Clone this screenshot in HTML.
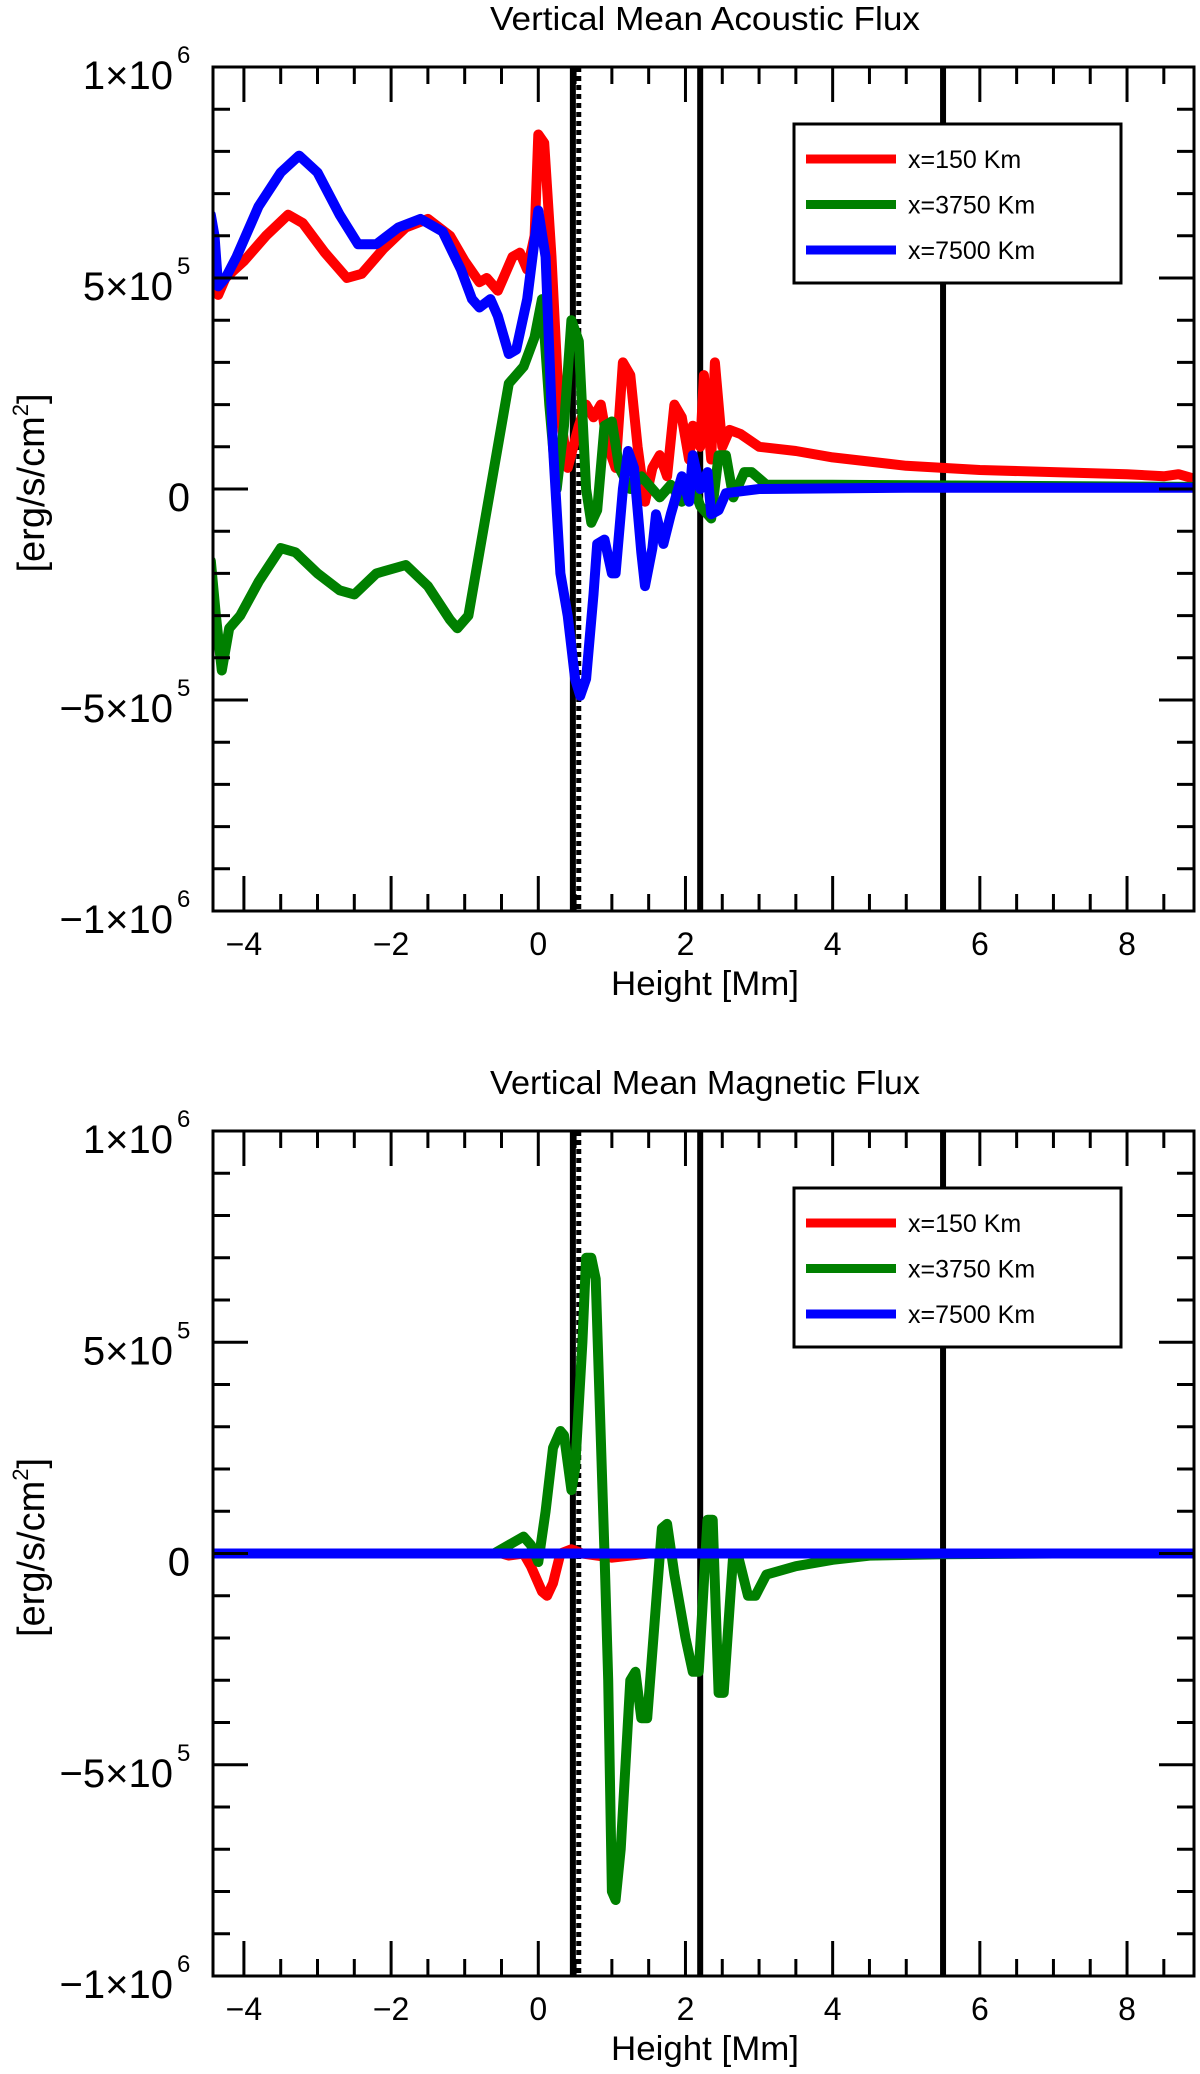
<!DOCTYPE html>
<html><head><meta charset="utf-8"><style>
html,body{margin:0;padding:0;background:#fff;}
svg{display:block;font-family:"Liberation Sans",Arial,sans-serif;}
</style></head><body>
<svg id="chart" width="1200" height="2074" viewBox="0 0 1200 2074" xmlns="http://www.w3.org/2000/svg"></svg>
<script>
// ---- data ----
const xTicks = [-4,-2,0,2,4,6,8];
const yTickLabels = [["1×10","6"],["5×10","5"],["0",""],["−5×10","5"],["−1×10","6"]];
const yTickValues = [1e6,5e5,0,-5e5,-1e6];
const seriesNames = ["x=150 Km","x=3750 Km","x=7500 Km"];
const seriesColors = ["#ff0000","#008000","#0000ff"];
const markerLines = [0.47, 2.2, 5.5];
const dottedLine = 0.55;

const acRedX = [-4.5,-4.4,-4.35,-4.25,-4.0,-3.7,-3.4,-3.2,-2.9,-2.6,-2.4,-2.1,-1.8,-1.5,-1.2,-1.0,-0.8,-0.7,-0.55,-0.45,-0.35,-0.25,-0.15,-0.05,0.0,0.08,0.18,0.28,0.4,0.55,0.65,0.75,0.85,0.95,1.05,1.15,1.25,1.35,1.45,1.55,1.65,1.75,1.85,1.95,2.05,2.1,2.2,2.25,2.35,2.4,2.5,2.6,2.75,3.0,3.5,4.0,5.0,6.0,7.0,8.0,8.5,8.7,8.9];
const acRedY = [0.49,0.5,0.46,0.5,0.54,0.6,0.65,0.63,0.56,0.5,0.51,0.57,0.62,0.64,0.6,0.54,0.49,0.5,0.47,0.51,0.55,0.56,0.52,0.6,0.84,0.82,0.55,0.2,0.05,0.15,0.2,0.17,0.2,0.1,0.05,0.3,0.27,0.1,-0.03,0.05,0.08,0.03,0.2,0.17,0.07,0.15,0.1,0.27,0.07,0.3,0.1,0.14,0.13,0.1,0.09,0.075,0.055,0.045,0.04,0.035,0.03,0.035,0.025];
const acGreenX = [-4.5,-4.45,-4.38,-4.3,-4.2,-4.05,-3.8,-3.5,-3.3,-3.0,-2.7,-2.5,-2.2,-1.8,-1.5,-1.2,-1.1,-0.95,-0.8,-0.6,-0.4,-0.2,-0.05,0.05,0.15,0.25,0.35,0.45,0.55,0.65,0.72,0.8,0.9,1.0,1.1,1.25,1.4,1.55,1.65,1.8,1.95,2.1,2.2,2.35,2.45,2.55,2.65,2.8,2.9,3.1,4.0,8.9];
const acGreenY = [-0.42,-0.17,-0.3,-0.43,-0.33,-0.3,-0.22,-0.14,-0.15,-0.2,-0.24,-0.25,-0.2,-0.18,-0.23,-0.31,-0.33,-0.3,-0.15,0.05,0.25,0.29,0.36,0.45,0.2,0.0,0.15,0.4,0.35,0.0,-0.08,-0.05,0.15,0.16,0.05,0.0,0.03,0.0,-0.02,0.01,-0.03,0.01,-0.04,-0.07,0.08,0.08,-0.02,0.04,0.04,0.01,0.01,0.005];
const acBlueX = [-4.5,-4.45,-4.4,-4.35,-4.25,-4.1,-3.8,-3.5,-3.25,-3.0,-2.7,-2.45,-2.2,-1.9,-1.6,-1.3,-1.05,-0.9,-0.8,-0.65,-0.55,-0.4,-0.3,-0.15,0.0,0.1,0.2,0.3,0.4,0.5,0.57,0.65,0.75,0.8,0.9,1.0,1.05,1.15,1.22,1.3,1.4,1.45,1.55,1.6,1.7,1.8,1.95,2.05,2.1,2.2,2.3,2.35,2.45,2.55,3.0,5.0,8.9];
const acBlueY = [0.5,0.65,0.6,0.48,0.5,0.55,0.67,0.75,0.79,0.75,0.65,0.58,0.58,0.62,0.64,0.61,0.52,0.45,0.43,0.45,0.41,0.32,0.33,0.45,0.66,0.55,0.1,-0.2,-0.3,-0.45,-0.49,-0.45,-0.25,-0.13,-0.12,-0.2,-0.2,0.0,0.09,0.05,-0.15,-0.23,-0.14,-0.06,-0.13,-0.06,0.03,-0.03,0.08,0.0,0.04,-0.06,-0.05,-0.01,0.0,0.003,0.003];

const mgRedX = [-4.5,-0.5,-0.4,-0.2,-0.1,0.05,0.12,0.2,0.3,0.45,0.6,1.0,1.5,8.9];
const mgRedY = [0,0,-0.005,0,-0.03,-0.09,-0.1,-0.07,0,0.01,0,-0.01,0,0];
const mgGreenX = [-4.5,-0.6,-0.3,-0.2,-0.1,0.0,0.1,0.2,0.3,0.35,0.45,0.5,0.6,0.65,0.72,0.78,0.9,0.95,1.0,1.05,1.12,1.25,1.32,1.4,1.48,1.6,1.68,1.75,1.85,2.0,2.1,2.18,2.3,2.37,2.45,2.52,2.65,2.72,2.85,2.95,3.1,3.5,4.0,4.5,5.5,7.0,8.9];
const mgGreenY = [0,0,0.03,0.04,0.02,-0.02,0.1,0.25,0.29,0.28,0.15,0.2,0.5,0.7,0.7,0.65,0.0,-0.3,-0.8,-0.82,-0.7,-0.3,-0.28,-0.39,-0.39,-0.12,0.06,0.07,-0.05,-0.2,-0.28,-0.28,0.08,0.08,-0.33,-0.33,0.0,-0.01,-0.1,-0.1,-0.05,-0.03,-0.015,-0.005,-0.002,0,0];
const mgBlueX = [-4.5,8.9];
const mgBlueY = [0,0];

// ---- drawing ----
const NS="http://www.w3.org/2000/svg";
const svg=document.getElementById('chart');
function mk(tag,attrs,parent){const e=document.createElementNS(NS,tag);for(const k in attrs)e.setAttribute(k,attrs[k]);(parent||svg).appendChild(e);return e;}

const X0=213,X1=1194,XMIN=-4.42,XMAX=8.91;
function sx(v){return X0+(v-XMIN)/(XMAX-XMIN)*(X1-X0);}

function panel(top,bottom,title,titleY,prefix,series){
  const g=mk('g',{});
  
  
  function sy(v){return top+(1e6-v)/2e6*(bottom-top);}
  const t=mk('text',{x:705,y:titleY,'text-anchor':'middle','font-size':33,fill:'#000',textLength:430,lengthAdjust:'spacingAndGlyphs'},g);
  t.textContent=title;
  
  
  markerLines.forEach(function(v,i){
    const l=mk('line',{x1:sx(v),x2:sx(v),y1:top,y2:bottom,stroke:'#000','stroke-width':6},g);
    
    
  });
  const dl=mk('line',{x1:sx(dottedLine),x2:sx(dottedLine),y1:top,y2:bottom,stroke:'#000','stroke-width':5,'stroke-dasharray':'5,4'},g);
  
  
  series.forEach(function(s,i){
    const d=s[0].map(function(x,j){return (j?'L':'M')+sx(x).toFixed(1)+' '+sy(s[1][j]*1e6).toFixed(1);}).join(' ');
    const p=mk('path',{d:d,fill:'none',stroke:seriesColors[i],'stroke-width':10,'stroke-linejoin':'round','stroke-linecap':'butt'},g);
    
    
  });
  mk('rect',{x:0,y:top-40,width:X0-1,height:bottom-top+80,fill:'#fff'},g);
  mk('rect',{x:X1+1,y:top-40,width:10,height:bottom-top+80,fill:'#fff'},g);
  const lg=mk('g',{},g);
  
  
  const ly=top+57;
  mk('rect',{x:794,y:ly,width:327,height:159,fill:'#fff',stroke:'#000','stroke-width':3},lg);
  seriesNames.forEach(function(n,i){
    const yy=ly+35+i*45.5;
    const ll=mk('line',{x1:806,x2:896,y1:yy,y2:yy,stroke:seriesColors[i],'stroke-width':9},lg);
    
    
    const tt=mk('text',{x:908,y:yy+9,'font-size':25,fill:'#000'},lg);
    tt.textContent=n;
    
    
  });
  const fr=mk('rect',{x:X0,y:top,width:X1-X0,height:bottom-top,fill:'none',stroke:'#000','stroke-width':3},g);
  
  
  for(let v=-4;v<=8.9;v+=0.5){
    const major=Math.abs(v%2)<1e-9;
    const len=major?35:17;
    mk('line',{x1:sx(v),x2:sx(v),y1:bottom,y2:bottom-len,stroke:'#000','stroke-width':3},g);
    mk('line',{x1:sx(v),x2:sx(v),y1:top,y2:top+len,stroke:'#000','stroke-width':3},g);
  }
  xTicks.forEach(function(v){
    const tl=mk('text',{x:sx(v),y:bottom+44,'text-anchor':'middle','font-size':32,fill:'#000'},g);
    tl.textContent=(v<0?'−':'')+Math.abs(v);
    
    
  });
  const xt=mk('text',{x:705,y:bottom+84,'text-anchor':'middle','font-size':34,fill:'#000',textLength:188,lengthAdjust:'spacingAndGlyphs'},g);
  xt.textContent='Height [Mm]';
  
  
  for(let k=-10;k<=10;k++){
    const v=k*1e5;
    const major=(k%5===0);
    const len=major?35:17;
    mk('line',{x1:X0,x2:X0+len,y1:sy(v),y2:sy(v),stroke:'#000','stroke-width':3},g);
    mk('line',{x1:X1,x2:X1-len,y1:sy(v),y2:sy(v),stroke:'#000','stroke-width':3},g);
  }
  yTickValues.forEach(function(v,i){
    const lab=yTickLabels[i];
    const tl=mk('text',{x:lab[1]?173:190,y:sy(v)+22,'text-anchor':'end','font-size':40,fill:'#000'},g);
    tl.textContent=lab[0];
    
    
    if(lab[1]){
      const sp=mk('text',{x:177,y:sy(v)-4,'font-size':24,fill:'#000'},g);
      sp.textContent=lab[1];
      
      
    }
  });
  const yt=mk('text',{x:0,y:0,'text-anchor':'middle','font-size':38,fill:'#000',transform:'translate(44,'+((top+bottom)/2-6)+') rotate(-90)'},g);
  yt.textContent='[erg/s/cm';
  const ts=mk('tspan',{'font-size':22,dy:-16},yt);
  ts.textContent='2';
  const ts2=mk('tspan',{dy:16},yt);
  ts2.textContent=']';
  
  
}

panel(67,911,'Vertical Mean Acoustic Flux',30,'acoustic',[[acRedX,acRedY],[acGreenX,acGreenY],[acBlueX,acBlueY]]);
panel(1131,1976,'Vertical Mean Magnetic Flux',1094,'magnetic',[[mgRedX,mgRedY],[mgGreenX,mgGreenY],[mgBlueX,mgBlueY]]);
</script>
</body></html>
